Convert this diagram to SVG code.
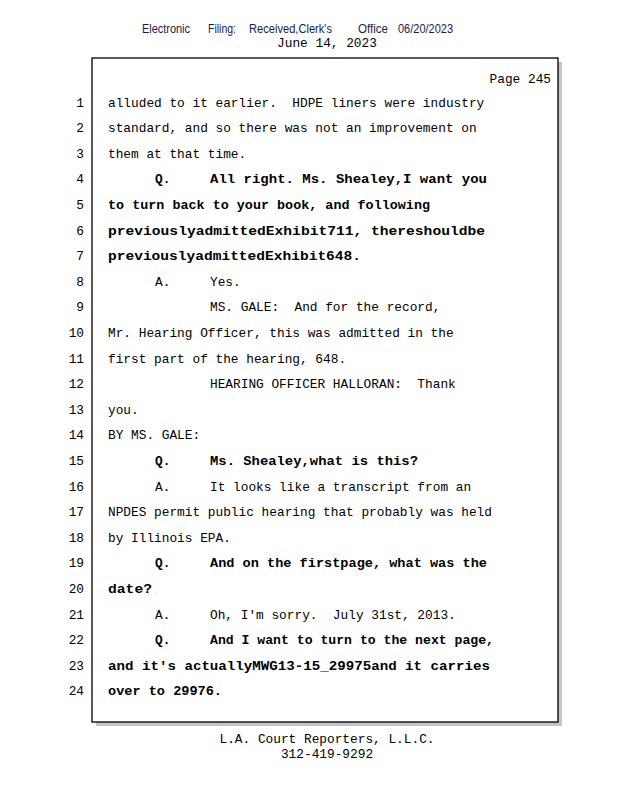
<svg xmlns="http://www.w3.org/2000/svg" width="618" height="800" viewBox="0 0 618 800">
<style>
.m{font-family:"Liberation Mono","DejaVu Sans Mono",monospace;font-size:12.8px;fill:#000;white-space:pre}
.b{font-weight:bold}
.n{text-anchor:end}
.h{font-family:"Liberation Sans Narrow","Liberation Sans",Arial,sans-serif;font-size:12px;fill:#1a1a4e}
.c{text-anchor:middle}
</style>
<rect width="618" height="800" fill="#fff"/>
<g id="header">
<text class="h" x="142" y="33" textLength="48" lengthAdjust="spacingAndGlyphs">Electronic</text>
<text class="h" x="208" y="33" textLength="28" lengthAdjust="spacingAndGlyphs">Filing:</text>
<text class="h" x="249" y="33" textLength="83" lengthAdjust="spacingAndGlyphs">Received,Clerk's</text>
<text class="h" x="358" y="33" textLength="30" lengthAdjust="spacingAndGlyphs">Office</text>
<text class="h" x="398" y="33" textLength="55" lengthAdjust="spacingAndGlyphs">06/20/2023</text>
<text class="m c" x="327" y="47">June 14, 2023</text>
</g>
<g id="page">
<rect x="96" y="62" width="466" height="664" fill="#c4c4c4"/>
<rect x="92" y="58" width="466" height="664" fill="#fff" stroke="#000" stroke-width="1.3"/>
<text class="m n" x="551" y="83">Page 245</text>
</g>
<g id="linenumbers">
<text class="m n" x="84" y="106.5">1</text>
<text class="m n" x="84" y="132.1">2</text>
<text class="m n" x="84" y="157.7">3</text>
<text class="m n" x="84" y="183.3">4</text>
<text class="m n" x="84" y="208.9">5</text>
<text class="m n" x="84" y="234.5">6</text>
<text class="m n" x="84" y="260.1">7</text>
<text class="m n" x="84" y="285.7">8</text>
<text class="m n" x="84" y="311.3">9</text>
<text class="m n" x="84" y="336.9">10</text>
<text class="m n" x="84" y="362.5">11</text>
<text class="m n" x="84" y="388.1">12</text>
<text class="m n" x="84" y="413.7">13</text>
<text class="m n" x="84" y="439.3">14</text>
<text class="m n" x="84" y="464.9">15</text>
<text class="m n" x="84" y="490.5">16</text>
<text class="m n" x="84" y="516.1">17</text>
<text class="m n" x="84" y="541.7">18</text>
<text class="m n" x="84" y="567.3">19</text>
<text class="m n" x="84" y="592.9">20</text>
<text class="m n" x="84" y="618.5">21</text>
<text class="m n" x="84" y="644.1">22</text>
<text class="m n" x="84" y="669.7">23</text>
<text class="m n" x="84" y="695.3">24</text>
</g>
<g id="text">
<text class="m" x="108" y="106.5">alluded to it earlier.  HDPE liners were industry</text>
<text class="m" x="108" y="132.1">standard, and so there was not an improvement on</text>
<text class="m" x="108" y="157.7">them at that time.</text>
<text class="m b" x="155" y="183.3">Q.</text>
<text class="m b" x="210" y="183.3" textLength="277" lengthAdjust="spacingAndGlyphs">All right. Ms. Shealey,I want you</text>
<text class="m b" x="108" y="208.9" textLength="322" lengthAdjust="spacingAndGlyphs">to turn back to your book, and following</text>
<text class="m b" x="108" y="234.5" textLength="377" lengthAdjust="spacingAndGlyphs">previouslyadmittedExhibit711, thereshouldbe</text>
<text class="m b" x="108" y="260.1" textLength="253" lengthAdjust="spacingAndGlyphs">previouslyadmittedExhibit648.</text>
<text class="m" x="155" y="285.7">A.</text>
<text class="m" x="210" y="285.7">Yes.</text>
<text class="m" x="210" y="311.3">MS. GALE:  And for the record,</text>
<text class="m" x="108" y="336.9">Mr. Hearing Officer, this was admitted in the</text>
<text class="m" x="108" y="362.5">first part of the hearing, 648.</text>
<text class="m" x="210" y="388.1">HEARING OFFICER HALLORAN:  Thank</text>
<text class="m" x="108" y="413.7">you.</text>
<text class="m" x="108" y="439.3">BY MS. GALE:</text>
<text class="m b" x="155" y="464.9">Q.</text>
<text class="m b" x="210" y="464.9" textLength="208" lengthAdjust="spacingAndGlyphs">Ms. Shealey,what is this?</text>
<text class="m" x="155" y="490.5">A.</text>
<text class="m" x="210" y="490.5">It looks like a transcript from an</text>
<text class="m" x="108" y="516.1">NPDES permit public hearing that probably was held</text>
<text class="m" x="108" y="541.7">by Illinois EPA.</text>
<text class="m b" x="155" y="567.3">Q.</text>
<text class="m b" x="210" y="567.3" textLength="277" lengthAdjust="spacingAndGlyphs">And on the firstpage, what was the</text>
<text class="m b" x="108" y="592.9" textLength="44" lengthAdjust="spacingAndGlyphs">date?</text>
<text class="m" x="155" y="618.5">A.</text>
<text class="m" x="210" y="618.5">Oh, I'm sorry.  July 31st, 2013.</text>
<text class="m b" x="155" y="644.1">Q.</text>
<text class="m b" x="210" y="644.1" textLength="284" lengthAdjust="spacingAndGlyphs">And I want to turn to the next page,</text>
<text class="m b" x="108" y="669.7" textLength="382" lengthAdjust="spacingAndGlyphs">and it's actuallyMWG13-15_29975and it carries</text>
<text class="m b" x="108" y="695.3" textLength="114" lengthAdjust="spacingAndGlyphs">over to 29976.</text>
</g>
<g id="footer">
<text class="m c" x="327" y="743">L.A. Court Reporters, L.L.C.</text>
<text class="m c" x="327" y="757.5">312-419-9292</text>
</g>
</svg>
